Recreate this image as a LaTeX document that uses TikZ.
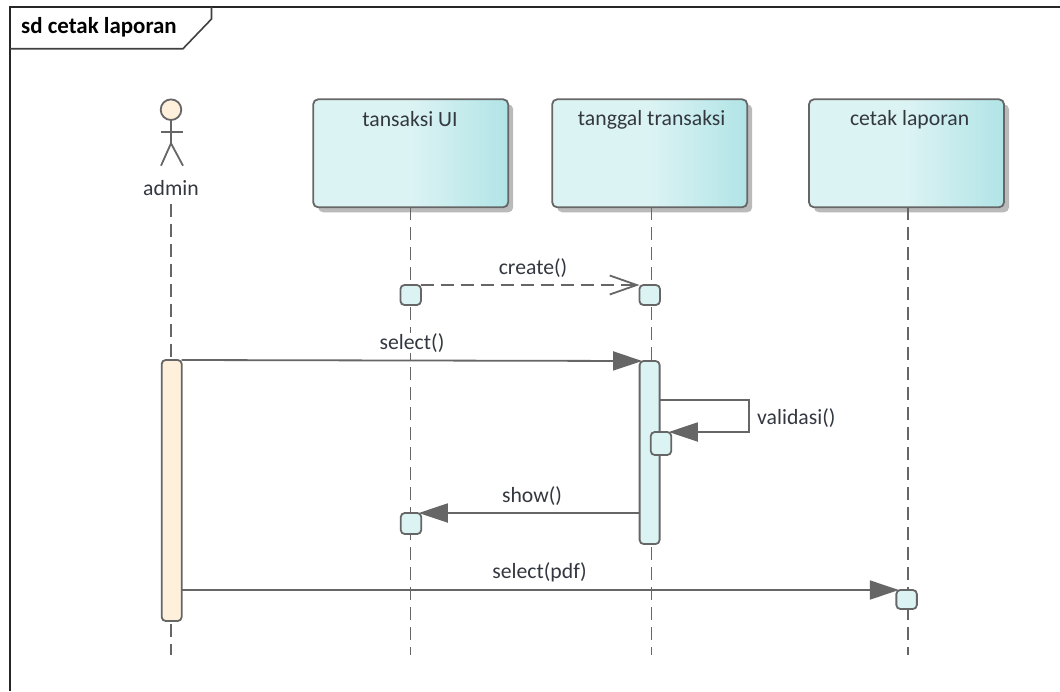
\documentclass[tikz,border=0pt]{standalone}
\usepackage{xcolor}
\usepackage{fontspec}
\setmainfont{Carlito}
\usetikzlibrary {arrows.meta, shadows}
\definecolor{boxpale}{HTML}{DCF3F4}
\definecolor{boxdark}{HTML}{B1E4E6}
\definecolor{actorfill}{HTML}{FFF0DC}
\definecolor{linegray}{HTML}{666666}
\definecolor{labelgray}{HTML}{333840}
\tikzset{
    >={Triangle[length=29pt, width=19pt]},
    msgline/.style={draw=linegray, line width=1.8pt},
    tipline/.style={msgline, ->, shorten >=-2.5pt},
    lifeline/.style={draw=linegray, line width=1.8pt, dash pattern=on 13pt off 7pt},
    classbox/.style={draw=linegray, line width=1.8pt, rounded corners=5pt, minimum width=195pt,
        minimum height=108pt, inner sep=0pt, outer sep=0pt, left color=boxpale, right color=boxdark, middle color=boxpale,
        drop shadow={shadow xshift=5pt, shadow yshift=-5pt, fill=black!27, opacity=1}},
    smallbar/.style={draw=linegray, line width=1.8pt, fill=boxpale, rounded corners=4pt,
        minimum width=20.5pt, inner sep=0pt, outer sep=0pt},
    longbar/.style={smallbar, minimum width=20pt},
    msglabel/.style={text=labelgray, inner sep=1pt}
}
\begin{document}
\begin{tikzpicture}[x=1pt, y=-1pt, font=\fontsize{21.7}{24}\selectfont]
    \useasboundingbox (0, 0) rectangle (1060, 691);
    \fill[white] (0, 0) rectangle (1060, 691);
    % frame and its tab
    \draw[line width=1.8pt, draw=black!85] (1060, 7) -- (10, 7) -- (10, 691);
    \draw[line width=1.6pt, draw=black!75] (10, 48.7) -- (183, 48.7) -- (211.5, 19) -- (211.5, 7);
    \node[anchor=west, inner sep=0pt, font=\fontsize{22.9}{24}\selectfont\bfseries] (frametitle) at (21, 27) {sd cetak laporan};
    % actor
    \node[circle, draw=linegray, line width=1.8pt, fill=actorfill, minimum size=20.6pt, inner sep=0pt, outer sep=0pt] (adminhead) at (171, 109.7) {};
    \coordinate (adminhip) at (171, 143.3);
    \draw[msgline] (adminhead.south) -- (adminhip);
    \draw[msgline] (161, 131.7) -- (183, 131.7);
    \draw[msgline] (161, 165.7) -- (adminhip) -- (183, 165.7);
    \node[msglabel] (adminlabel) at (171, 188) {admin};
    % boxes across the top
    \foreach \name/\x/\tx/\title in {ui/410.7/410/tansaksi UI, trx/649.7/651.7/tanggal transaksi, lap/906.5/909.6/cetak laporan}{
        \node[classbox] (\name box) at (\x, 153.3) {};
        \node[msglabel] (\name title) at (\tx, 119.5) {\title};
    }
    % lifelines
    \coordinate (adminstart) at (171, 204);
    \coordinate (adminend) at (171, 655);
    \coordinate (uiend) at (410.5, 655);
    \coordinate (trxend) at (651.4, 655);
    \coordinate (lapend) at (908, 655);
    \draw[lifeline] (adminstart) -- (adminend);
    \foreach \name in {ui, trx, lap}{
        \draw[lifeline] (\name box.south -| \name end) -- (\name end);
    }
    % activations
    \node[longbar, fill=actorfill, minimum height=261pt] (adminbar) at (171.7, 490.5) {};
    \node[longbar, minimum height=183pt] (trxbar) at (649.6, 452.5) {};
    \foreach \name/\x/\y/\h in {uicreate/410.7/295/20, trxcreate/649.7/295/20, trxself/661/443.5/23, uishow/411/523.5/21, lapselect/906.6/599.5/19}{
        \node[smallbar, minimum height=\h pt] (\name) at (\x, \y) {};
    }
    % messages
    \draw[msgline, dash pattern=on 13pt off 7pt, -{Straight Barb[length=27pt, width=19pt]}] (uicreate.north east) -- (trxcreate.north west);
    \node[msglabel] (createlabel) at (533, 268) {create()};
    \draw[tipline] (adminbar.north east) -- (trxbar.north west);
    \node[msglabel, fill=white] (selectlabel) at (412, 343) {select()};
    \coordinate (loopcorner) at (748.6, 400);
    \draw[tipline] (trxbar.east |- loopcorner) -- (loopcorner) |- (trxself.north east);
    \node[msglabel, anchor=west] (validasilabel) at (756, 418) {validasi()};
    \draw[tipline] (trxbar.west |- uishow.north) -- (uishow.north east);
    \node[msglabel] (showlabel) at (532, 496) {show()};
    \draw[tipline] (adminbar.east |- lapselect.north) -- (lapselect.north west);
    \node[msglabel] (pdflabel) at (539.6, 572) {select(pdf)};
\end{tikzpicture}
\end{document}
